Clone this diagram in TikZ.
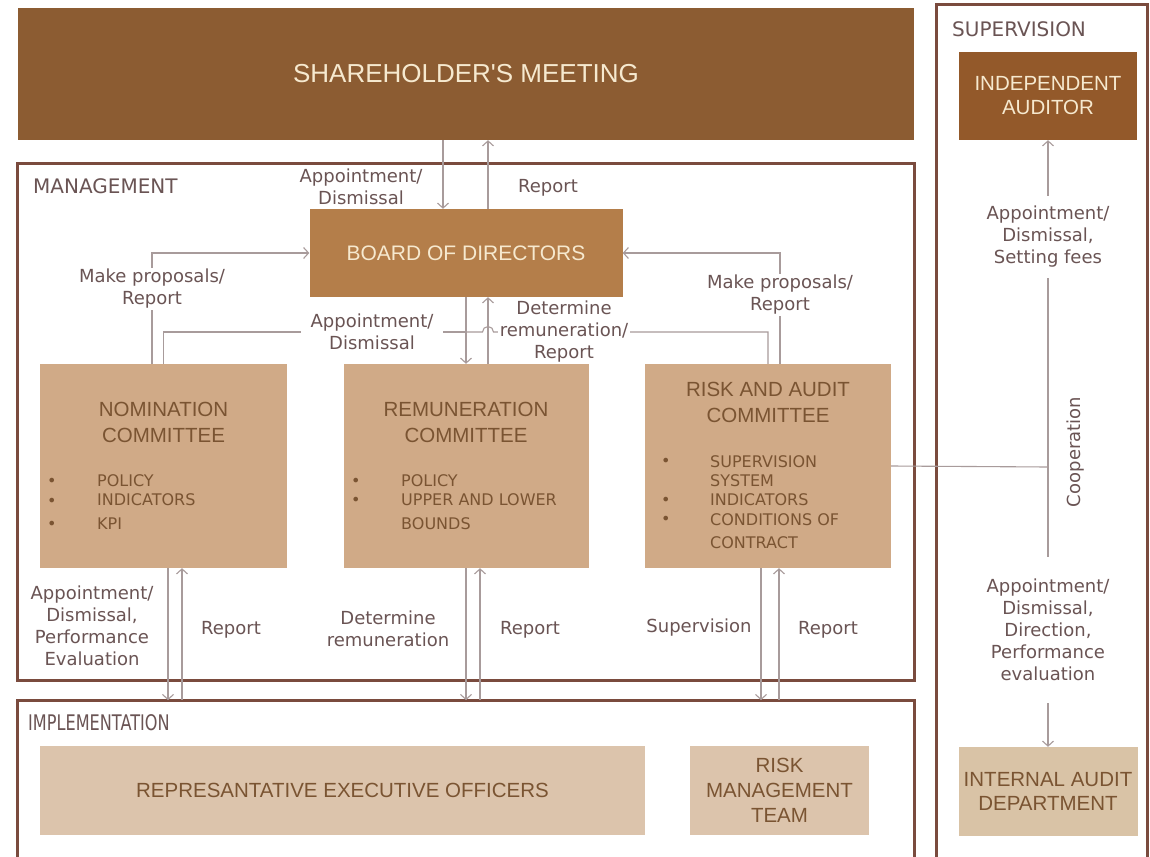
\documentclass[tikz,border=0pt]{standalone}
\usepackage{fontspec}
\setmainfont{Liberation Sans}
\newfontfamily\vfont{DejaVu Sans}
\usetikzlibrary{arrows.meta}
\definecolor{shc}{HTML}{8C5C32}
\definecolor{indc}{HTML}{93592A}
\definecolor{boardc}{HTML}{B47E4A}
\definecolor{comc}{HTML}{D0AA87}
\definecolor{impc}{HTML}{DCC4AC}
\definecolor{iac}{HTML}{D9C3A6}
\definecolor{framec}{HTML}{7A4B3E}
\definecolor{linec}{HTML}{A89B9B}
\definecolor{labc}{HTML}{6A5454}
\definecolor{comt}{HTML}{7A5432}
\definecolor{creamt}{HTML}{F6E9CF}
\begin{document}
\begin{tikzpicture}[x=1pt,y=-1pt,
  frame/.style={draw=framec, line width=3pt, fill=none, inner sep=0},
  box/.style={draw=none, inner sep=0, align=center},
  lbl/.style={font={\vfont\fontsize{18}{22}\selectfont}, text=labc, align=center, inner sep=1.5pt},
  lblw/.style={lbl, fill=white},
  hdr/.style={font={\vfont\fontsize{20}{24}\selectfont}, text=labc, anchor=west, inner sep=0},
  bul/.style={font={\vfont\fontsize{16}{19}\selectfont}, text=comt, anchor=west, inner sep=0},
  ctitle/.style={font={\fontsize{20.5}{26}\selectfont}, text=comt, align=center, inner sep=0},
  conn/.style={draw=linec, line width=1.1pt},
  arr/.style={conn, -{Straight Barb[length=5pt,width=11pt]}},
  arrb/.style={conn, {Straight Barb[length=5pt,width=11pt]}-}
]
\clip (0,0) rectangle (1150,856);
\fill[white] (0,0) rectangle (1150,856);

% frames
\node[frame, minimum width=897pt, minimum height=517pt] (mgmt) at (465.5,421.5) {};
\node[frame, minimum width=897pt, minimum height=200pt] (impl) at (465.5,800) {};
\node[frame, minimum width=211pt, minimum height=900pt] (sup) at (1041.5,455) {};

\node[hdr] (hmg) at (33,186) {MANAGEMENT};
\node[hdr, font={\vfont\fontsize{21.5}{24}\selectfont}] (him) at (28,723) {\scalebox{0.75}[1]{IMPLEMENTATION}};
\node[hdr] (hsu) at (952,29) {SUPERVISION};

% boxes
\node[box, fill=shc, minimum width=896pt, minimum height=132pt, text=creamt, font={\fontsize{26}{30}\selectfont\addfontfeatures{Ligatures=TeXOff}}] (sh) at (466,74) {SHAREHOLDER'S MEETING};
\node[box, fill=boardc, minimum width=313pt, minimum height=88pt, text=creamt, font={\fontsize{21}{25}\selectfont}] (board) at (466,253) {BOARD OF DIRECTORS};
\node[box, fill=comc, minimum width=247pt, minimum height=204pt] (nom) at (163.5,466) {};
\node[box, fill=comc, minimum width=245pt, minimum height=204pt] (rem) at (466,466) {};
\node[box, fill=comc, minimum width=246pt, minimum height=204pt] (risk) at (768,466) {};
\node[box, fill=impc, minimum width=605pt, minimum height=89pt, text=comt, font={\fontsize{20.5}{25}\selectfont}] (rep) at (342.5,790.5) {REPRESANTATIVE EXECUTIVE OFFICERS};
\node[box, fill=impc, minimum width=179pt, minimum height=89pt, text=comt, font={\fontsize{20.5}{25}\selectfont}] (rmt) at (779.5,790.5) {RISK\\MANAGEMENT\\TEAM};
\node[box, fill=indc, minimum width=178pt, minimum height=88pt, text=creamt, font={\fontsize{20.5}{24}\selectfont}] (ind) at (1048,96) {INDEPENDENT\\AUDITOR};
\node[box, fill=iac, minimum width=179pt, minimum height=89pt, text=comt, font={\fontsize{20.5}{24}\selectfont}] (ia) at (1048,791.5) {INTERNAL AUDIT\\DEPARTMENT};

% committee contents
\node[ctitle] (nomt) at (163.5,422) {NOMINATION\\COMMITTEE};
\node[bul] (nb1) at (47,482) {•};
\node[bul] (nb2) at (47,502) {•};
\node[bul] (nb3) at (47,525) {•};
\node[bul] (nt1) at (97,481) {POLICY};
\node[bul] (nt2) at (97,500) {INDICATORS};
\node[bul] (nt3) at (97,524) {KPI};

\node[ctitle] (remt) at (466,422) {REMUNERATION\\COMMITTEE};
\node[bul] (rb1) at (351,482) {•};
\node[bul] (rb2) at (351,501) {•};
\node[bul] (rt1) at (401,481) {POLICY};
\node[bul] (rt2) at (401,500) {UPPER AND LOWER};
\node[bul] (rt3) at (401,524) {BOUNDS};

\node[ctitle] (riskt) at (768,402) {RISK AND AUDIT\\COMMITTEE};
\node[bul] (kb1) at (661,462) {•};
\node[bul] (kb2) at (661,501) {•};
\node[bul] (kb3) at (661,520) {•};
\node[bul] (kt1) at (710,462) {SUPERVISION};
\node[bul] (kt2) at (710,481) {SYSTEM};
\node[bul] (kt3) at (710,500) {INDICATORS};
\node[bul] (kt4) at (710,520) {CONDITIONS OF};
\node[bul] (kt5) at (710,543) {CONTRACT};

% connectors: shareholders <-> board
\draw[arr] ([xshift=-23pt]sh.south) -- ([xshift=-23pt]board.north);
\draw[arr] ([xshift=22pt]board.north) -- ([xshift=22pt]sh.south);

% board <-> committees
\coordinate (j1) at (466,332);
\draw[arr] (board.south) -- (rem.north);
\draw[arr] ([xshift=22pt]rem.north) -- ([xshift=22pt]board.south);
\draw[conn] (nom.north) |- (j1);
\draw[conn] (j1) -- (482.5,332) arc[start angle=180, end angle=360, radius=5.5] -- (risk.north |- j1) -- (risk.north);
\draw[arr] ([xshift=-11.5pt]nom.north) |- (board.west);
\draw[arr] ([xshift=12pt]risk.north) |- (board.east);

% committees <-> implementation
\draw[arr] ([xshift=4.5pt]nom.south) -- ++(0,132);
\draw[arrb] ([xshift=18.5pt]nom.south) -- ++(0,132);
\draw[arr] ([xshift=0pt]rem.south) -- ++(0,132);
\draw[arrb] ([xshift=14pt]rem.south) -- ++(0,132);
\draw[arr] ([xshift=-7pt]risk.south) -- ++(0,132);
\draw[arrb] ([xshift=11pt]risk.south) -- ++(0,132);

% supervision column
\coordinate (coop) at (1048,467);
\draw[conn] (risk.east) -- (coop);
\draw[arr] (coop) -- (ind.south);
\draw[arr] (coop) -- (ia.north);

% labels
\node[lbl] (la) at (361,187) {Appointment/\\Dismissal};
\node[lbl] (lb) at (548,188) {Report};
\node[lblw] (lc) at (152,289) {Make proposals/\\Report};
\node[lblw] (ld) at (780,295) {Make proposals/\\Report};
\node[lblw, inner xsep=10pt] (le) at (372,332) {Appointment/\\Dismissal};
\node[lblw, inner xsep=2pt] (lf) at (564,332) {Determine\\remuneration/\\Report};
\node[lbl] (lg) at (92,626) {Appointment/\\Dismissal,\\Performance\\Evaluation};
\node[lbl] (lh) at (231,630) {Report};
\node[lbl] (li) at (388,629) {Determine\\remuneration};
\node[lbl] (lj) at (530,630) {Report};
\node[lbl] (lk) at (699,628) {Supervision};
\node[lbl] (ll) at (828,630) {Report};
\node[lblw, inner ysep=10pt] (lm) at (1048,237) {Appointment/\\Dismissal,\\Setting fees};
\node[lblw, inner ysep=22pt] (ln) at (1048,630) {Appointment/\\Dismissal,\\Direction,\\Performance\\evaluation};
\node[lbl, rotate=90] (lo) at (1076,452) {Cooperation};
\end{tikzpicture}
\end{document}
